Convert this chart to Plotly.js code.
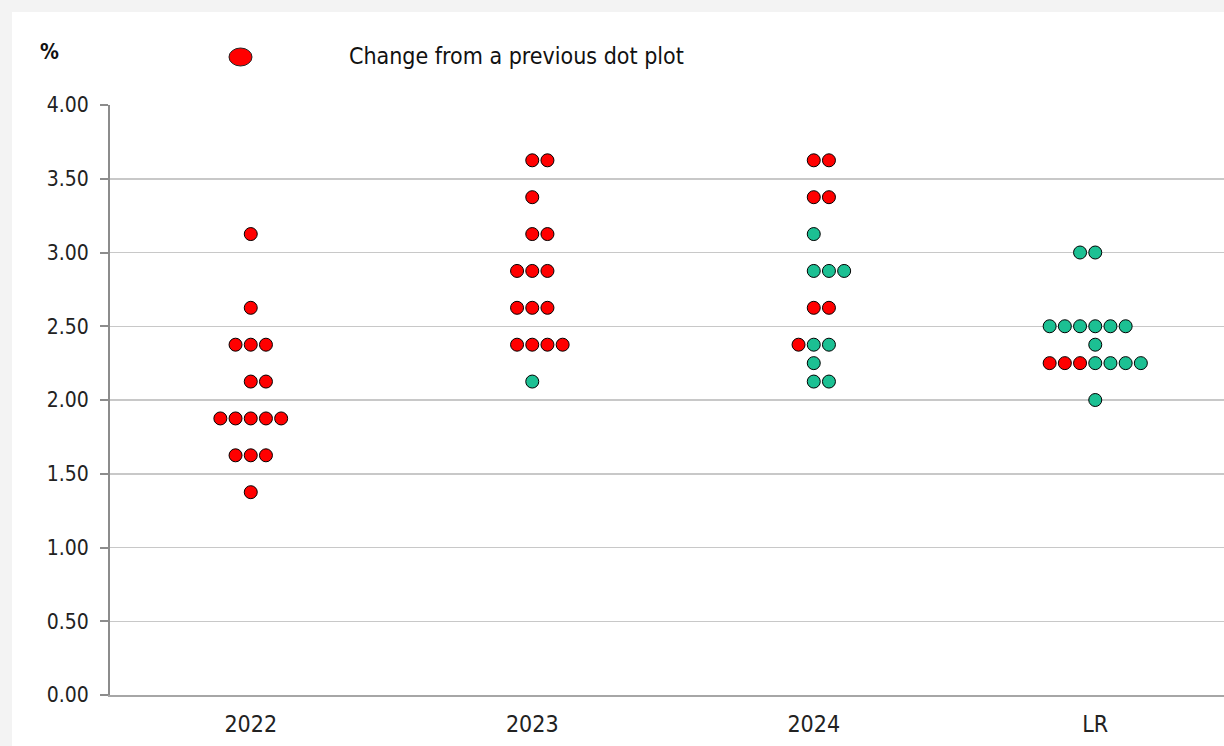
<!DOCTYPE html>
<html>
<head>
<meta charset="utf-8">
<script src="https://cdn.plot.ly/plotly-3.0.1.min.js"></script>
<style>
  html, body { margin: 0; padding: 0; background: #f3f3f3; width: 1224px; height: 746px; overflow: hidden; }
  #chart { position: absolute; left: 12px; top: 12px; width: 1212px; height: 734px; background: #ffffff; }
</style>
</head>
<body>
<div id="chart"></div>
<script>
// ---- Data ----
const categories = ['2022', '2023', '2024', 'LR'];
// One entry per row of dots
const rowCategory  = [0, 0, 0, 0, 0, 0, 0,   1, 1, 1, 1, 1, 1, 1,   2, 2, 2, 2, 2, 2, 2, 2,   3, 3, 3, 3, 3];
const rowRate      = [3.125, 2.625, 2.375, 2.125, 1.875, 1.625, 1.375,
                      3.625, 3.375, 3.125, 2.875, 2.625, 2.375, 2.125,
                      3.625, 3.375, 3.125, 2.875, 2.625, 2.375, 2.25, 2.125,
                      3.0, 2.5, 2.375, 2.25, 2.0];
// dots that changed from the previous dot plot (red)
const rowChanged   = [1, 1, 3, 2, 5, 3, 1,   2, 1, 2, 3, 3, 4, 0,   2, 2, 0, 0, 2, 1, 0, 0,   0, 0, 0, 3, 0];
// dots unchanged (green)
const rowUnchanged = [0, 0, 0, 0, 0, 0, 0,   0, 0, 0, 0, 0, 0, 1,   0, 0, 1, 3, 0, 2, 1, 2,   2, 6, 1, 4, 1];
// arrangement: slot of the leftmost dot relative to the category centre
const rowFirstSlot = [0, 0, -1, 0, -2, -1, 0,  0, 0, 0, -1, -1, -1, 0,  0, 0, 0, 0, 0, -1, 0, 0,  -1, -3, 0, -3, 0];
const legendLabel = 'Change from a previous dot plot';
const unitLabel = '%';

// ---- Build traces ----
const DOT_STEP = 0.054;
const redX = [], redY = [], greenX = [], greenY = [];
for (let i = 0; i < rowRate.length; i++) {
  let slot = rowFirstSlot[i];
  for (let k = 0; k < rowChanged[i]; k++) { redX.push(rowCategory[i] + slot * DOT_STEP); redY.push(rowRate[i]); slot++; }
  for (let k = 0; k < rowUnchanged[i]; k++) { greenX.push(rowCategory[i] + slot * DOT_STEP); greenY.push(rowRate[i]); slot++; }
}

const markerLine = { color: '#000000', width: 1 };
const traces = [
  { type: 'scatter', mode: 'markers', x: greenX, y: greenY, hoverinfo: 'skip', showlegend: false,
    marker: { size: 13, color: '#1cc093', line: markerLine } },
  { type: 'scatter', mode: 'markers', x: redX, y: redY, hoverinfo: 'skip', showlegend: false,
    marker: { size: 13, color: '#ff0000', line: markerLine } }
];

const W = 1212, H = 734;
const M = { l: 98, r: 0, t: 93, b: 51 };
const plotW = W - M.l - M.r, plotH = H - M.t - M.b;
const px = x => (x - M.l) / plotW;          // div pixel -> paper x
const py = y => (H - M.b - y) / plotH;      // div pixel -> paper y
const narrow = '"Liberation Sans Narrow", "Arial Narrow", "DejaVu Sans Condensed", sans-serif';

const layout = {
  width: W, height: H,
  margin: M,
  paper_bgcolor: '#ffffff',
  plot_bgcolor: '#ffffff',
  showlegend: false,
  xaxis: {
    range: [-0.5, -0.5 + plotW / 281.5],
    tickmode: 'array',
    tickvals: categories.map((c, i) => i),
    ticktext: categories,
    ticks: '',
    showgrid: false,
    zeroline: false,
    showline: true,
    linecolor: '#a6a6a6',
    linewidth: 2,
    ticklabelstandoff: 7,
    tickfont: { family: '"DejaVu Sans Condensed", "DejaVu Sans", sans-serif', size: 23, color: '#222222' },
    fixedrange: true
  },
  yaxis: {
    range: [0, 4],
    tick0: 0, dtick: 0.5,
    tickformat: '.2f',
    ticks: 'outside',
    ticklen: 8,
    tickcolor: '#8c8c8c',
    tickwidth: 2,
    showgrid: true,
    gridcolor: '#c8c8c8',
    gridwidth: 1.5,
    zeroline: false,
    showline: true,
    linecolor: '#8c8c8c',
    linewidth: 2,
    ticklabelstandoff: 7,
    tickfont: { family: narrow, size: 21, color: '#222222' },
    fixedrange: true
  },
  shapes: [
    { type: 'circle', xref: 'paper', yref: 'paper', xsizemode: 'pixel', ysizemode: 'pixel',
      xanchor: px(228.5), yanchor: py(45),
      x0: -11.5, x1: 11.5, y0: -9, y1: 9,
      fillcolor: '#ff0000', line: { color: '#222222', width: 1 } }
  ],
  annotations: [
    { text: legendLabel, xref: 'paper', yref: 'paper', x: px(335), y: py(44),
      xanchor: 'left', yanchor: 'middle', showarrow: false,
      font: { family: narrow, size: 23, color: '#111111' } },
    { text: '<b>' + unitLabel + '</b>', xref: 'paper', yref: 'paper', x: px(37.5), y: py(40),
      xanchor: 'center', yanchor: 'middle', showarrow: false,
      font: { family: narrow, size: 21, color: '#111111' } }
  ]
};

Plotly.newPlot('chart', traces, layout, { displayModeBar: false, staticPlot: true });
</script>
</body>
</html>
